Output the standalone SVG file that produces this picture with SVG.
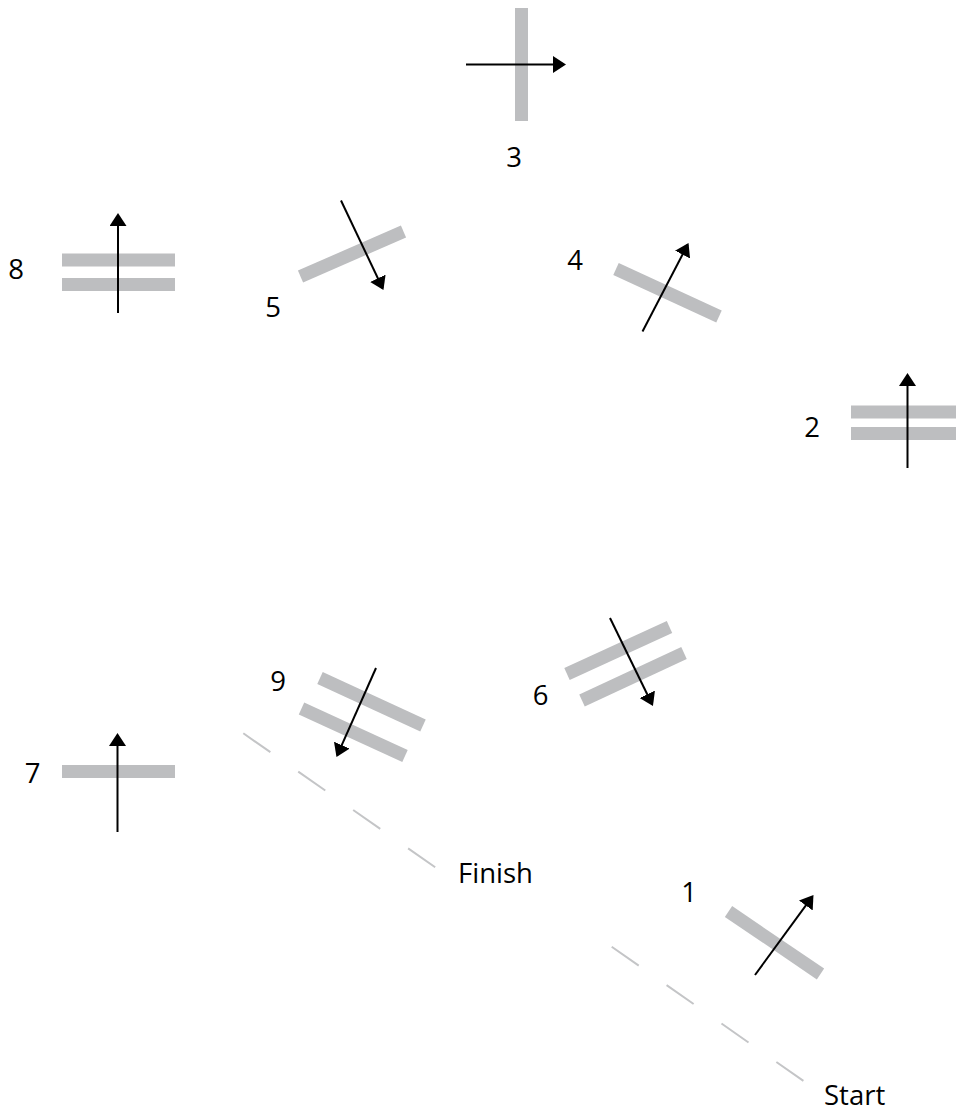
<svg xmlns="http://www.w3.org/2000/svg" width="956" height="1112" viewBox="0 0 956 1112">
<style>
.bar{stroke:#bdbec0;stroke-width:13;stroke-linecap:butt;fill:none}
.arr{stroke:#000;stroke-width:2;fill:none;marker-end:url(#ah)}
.dash{stroke:#c4c5c7;stroke-width:2;stroke-dasharray:33 34;fill:none}
.lbl{font-family:"Open Sans","Noto Sans",sans-serif;font-size:27.5px;fill:#000}
.num{text-anchor:middle}
</style>
<defs>
<marker id="ah" markerUnits="userSpaceOnUse" viewBox="0 0 13 17" markerWidth="13" markerHeight="17" refX="11" refY="8.5" orient="auto">
<path d="M0,0 L13,8.5 L0,17 z" fill="#000"/>
</marker>
</defs>
<rect width="956" height="1112" fill="#fff"/>
<g id="connectors">
<line class="dash" x1="243.3" y1="733.3" x2="437" y2="868.5"/>
<line class="dash" x1="611.7" y1="946.7" x2="805" y2="1082"/>
</g>
<g id="gate3">
<line class="bar" x1="521.5" y1="8" x2="521.5" y2="121"/>
<line class="arr" x1="466" y1="64.5" x2="564" y2="64.5"/>
<text class="lbl num" x="514" y="167">3</text>
</g>
<g id="gate8">
<line class="bar" x1="62" y1="260" x2="175" y2="260"/>
<line class="bar" x1="62" y1="284.5" x2="175" y2="284.5"/>
<line class="arr" x1="118" y1="313" x2="118" y2="215"/>
<text class="lbl num" x="16" y="278.5">8</text>
</g>
<g id="gate5">
<line class="bar" x1="300.5" y1="276.5" x2="403.5" y2="231.5"/>
<line class="arr" x1="341" y1="200.5" x2="382.6" y2="288.2"/>
<text class="lbl num" x="273" y="316.5">5</text>
</g>
<g id="gate4">
<line class="bar" x1="616" y1="269" x2="719" y2="316.5"/>
<line class="arr" x1="642.5" y1="331.5" x2="687.6" y2="244.8"/>
<text class="lbl num" x="575" y="270">4</text>
</g>
<g id="gate2">
<line class="bar" x1="851" y1="412" x2="960" y2="412"/>
<line class="bar" x1="851" y1="433.5" x2="960" y2="433.5"/>
<line class="arr" x1="907.5" y1="468" x2="907.5" y2="375"/>
<text class="lbl num" x="812" y="436.5">2</text>
</g>
<g id="gate6">
<line class="bar" x1="567" y1="674" x2="669.5" y2="627"/>
<line class="bar" x1="582" y1="700.5" x2="684" y2="653"/>
<line class="arr" x1="610" y1="618" x2="652.1" y2="704.2"/>
<text class="lbl num" x="540.5" y="704.5">6</text>
</g>
<g id="gate9">
<line class="bar" x1="320" y1="678" x2="423" y2="725.5"/>
<line class="bar" x1="301.5" y1="708.5" x2="405" y2="756"/>
<line class="arr" x1="376" y1="668" x2="337.3" y2="755.2"/>
<text class="lbl num" x="278" y="690.5">9</text>
</g>
<g id="gate7">
<line class="bar" x1="62" y1="771.5" x2="175" y2="771.5"/>
<line class="arr" x1="117.5" y1="832" x2="117.5" y2="735"/>
<text class="lbl num" x="32.5" y="782.5">7</text>
</g>
<g id="gate1">
<line class="bar" x1="728.5" y1="911.5" x2="820.5" y2="974"/>
<line class="arr" x1="755" y1="975" x2="812.3" y2="896.6"/>
<text class="lbl num" x="689" y="901.5">1</text>
</g>
<g id="finish">
<text class="lbl" x="458" y="882.5">Finish</text>
</g>
<g id="start">
<text class="lbl" x="824" y="1104.5">Start</text>
</g>
</svg>
